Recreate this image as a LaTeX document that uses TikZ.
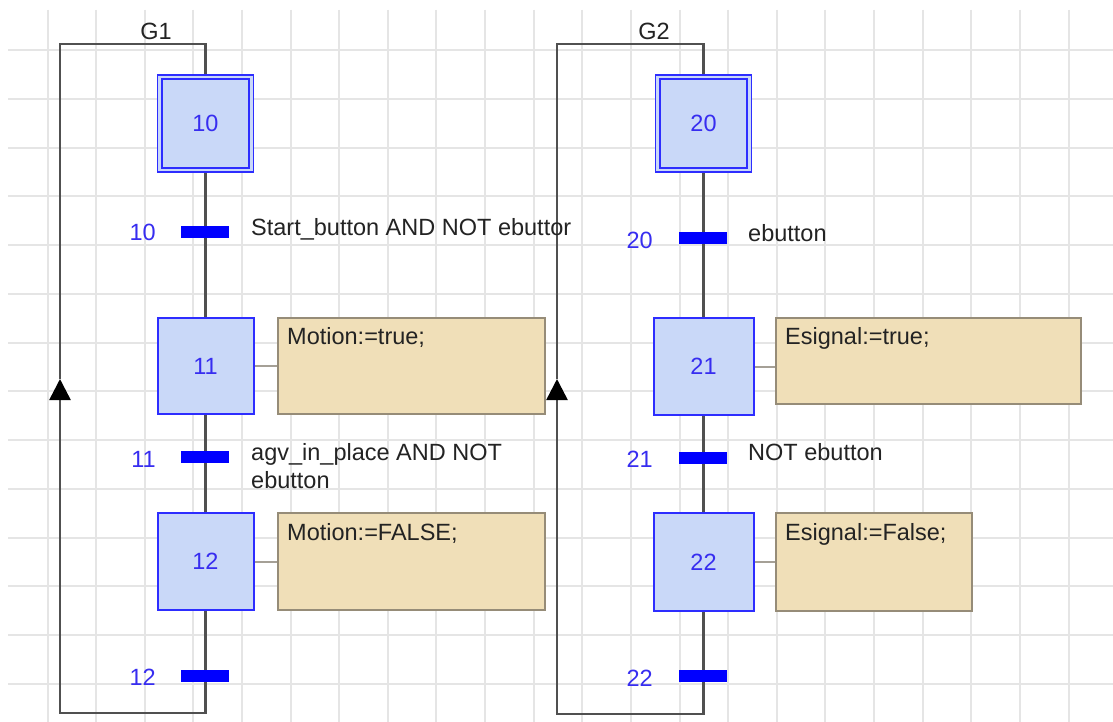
\documentclass[tikz,border=0pt]{standalone}
\usepackage{fontspec}
\setmainfont{Liberation Sans}
\usetikzlibrary{arrows.meta}
\pgfdeclarelayer{grid}
\pgfdeclarelayer{lines}
\pgfsetlayers{grid,lines,main}
\definecolor{gridc}{RGB}{229,229,229}
\definecolor{stepfill}{RGB}{201,216,248}
\definecolor{stepdraw}{RGB}{45,45,255}
\definecolor{numc}{RGB}{55,45,240}
\definecolor{barc}{RGB}{0,0,255}
\definecolor{linec}{RGB}{80,80,80}
\definecolor{actfill}{RGB}{240,223,184}
\definecolor{actdraw}{RGB}{150,140,120}
\definecolor{actline}{RGB}{165,160,150}
\definecolor{txtc}{RGB}{35,35,35}
\newcommand\diagfont{\fontsize{23.5pt}{28pt}\selectfont}
\tikzset{
  gridline/.style={draw=gridc, line width=2pt},
  stepbox/.style={draw=stepdraw, fill=stepfill, line width=2pt, minimum width=96pt, minimum height=96pt, inner sep=0pt, text=numc, font=\diagfont},
  initbox/.style={stepbox, line width=1.5pt, minimum height=97pt},
  transbar/.style={fill=barc, draw=none, minimum width=48pt, minimum height=12pt, inner sep=0pt},
  transnum/.style={anchor=base east, inner sep=0pt, text=numc, font=\diagfont},
  condtext/.style={anchor=base west, inner sep=0pt, text=txtc, font=\diagfont},
  actbox/.style={draw=actdraw, fill=actfill, line width=2pt, inner sep=0pt},
  acttext/.style={anchor=base west, inner sep=0pt, text=txtc, font=\diagfont},
  actconn/.style={draw=actline, line width=2pt},
  mainline/.style={draw=linec, line width=2.5pt},
  looparrow/.style={mainline, -{Triangle[length=21pt,width=21pt,color=black]}},
  grouplabel/.style={anchor=base, inner sep=0pt, text=txtc, font=\diagfont}
}
\begin{document}
\begin{tikzpicture}[x=1pt, y=-1pt]
\useasboundingbox (0,0) rectangle (1113,722);
% background and grid
\begin{pgfonlayer}{grid}
\fill[white] (0,0) rectangle (1113,722);
\foreach \i in {0,...,21} \draw[gridline] ({47.5+48.62*\i},10) -- ({47.5+48.62*\i},722);
\foreach \j in {0,...,13} \draw[gridline] (8,{50+48.77*\j}) -- (1113,{50+48.77*\j});
\end{pgfonlayer}

% ---------------- G1 ----------------
\node[grouplabel] (g1) at (156,40) {G1};
\node[initbox] (s10) at (205.5,123.5) {10};
\draw[stepdraw, line width=2pt] ([shift={(5,5)}]s10.north west) rectangle ([shift={(-5,-5)}]s10.south east);
\node[stepbox] (s11) at (205.5,366) {11};
\node[stepbox, minimum height=97pt] (s12) at (205.5,561.5) {12};
\node[transbar] (t10) at (205,232) {};
\node[transbar] (t11) at (205,457) {};
\node[transbar] (t12) at (205,676) {};
\node[transnum] (n10) at (156,240) {10};
\node[transnum] (n11) at (156,467) {11};
\node[transnum] (n12) at (156,685) {12};
\node[condtext] (c10) at (251,235) {Start\_button AND NOT ebuttor};
\node[condtext] (c11) at (251,460) {agv\_in\_place AND NOT};
\node[condtext] (c11b) at (251,488) {ebutton};
\node[actbox, minimum width=267pt, minimum height=96pt] (a11) at (411.5,366) {};
\node[actbox, minimum width=267pt, minimum height=97pt] (a12) at (411.5,561.5) {};
\node[acttext] (a11t) at (287,344) {Motion:=true;};
\node[acttext] (a12t) at (287,540) {Motion:=FALSE;};
\coordinate (g1br) at (205.5,713);
\coordinate (g1bl) at (60,713);
\coordinate (g1b) at (60,400);
\coordinate (g1a) at (60,379);
\coordinate (g1tl) at (60,44);
\coordinate (g1tr) at (205.5,44);

% ---------------- G2 ----------------
\node[grouplabel] (g2) at (654,40) {G2};
\node[initbox] (s20) at (703.5,123.5) {20};
\draw[stepdraw, line width=2pt] ([shift={(5,5)}]s20.north west) rectangle ([shift={(-5,-5)}]s20.south east);
\node[stepbox, minimum width=100pt, minimum height=97pt] (s21) at (703.5,366.5) {21};
\node[stepbox, minimum width=100pt, minimum height=98pt] (s22) at (703.5,562) {22};
\node[transbar] (t20) at (703,238) {};
\node[transbar] (t21) at (703,457.5) {};
\node[transbar] (t22) at (703,676) {};
\node[transnum] (n20) at (653,248) {20};
\node[transnum] (n21) at (653,467) {21};
\node[transnum] (n22) at (653,686) {22};
\node[condtext] (c20) at (748,241) {ebutton};
\node[condtext] (c21) at (748,460) {NOT ebutton};
\node[actbox, minimum width=305pt, minimum height=86pt] (a21) at (928.5,361) {};
\node[actbox, minimum width=196pt, minimum height=98pt] (a22) at (874,562) {};
\node[acttext] (a21t) at (785,344) {Esignal:=true;};
\node[acttext] (a22t) at (785,540) {Esignal:=False;};
\coordinate (g2br) at (703.5,714);
\coordinate (g2bl) at (557,714);
\coordinate (g2b) at (557,400);
\coordinate (g2a) at (557,379);
\coordinate (g2tl) at (557,44);
\coordinate (g2tr) at (703.5,44);

% ---------------- connectors ----------------
\begin{pgfonlayer}{lines}
\draw[mainline] (s10.south) -- (s11.north);
\draw[mainline] (s11.south) -- (s12.north);
\draw[mainline] (s12.south) -- (g1br) -- (g1bl) -- (g1b);
\draw[looparrow] (g1b) -- (g1a);
\draw[mainline] (g1a) -- (g1tl) -- (g1tr) -- (s10.north);
\draw[actconn] (s11.east) -- (a11.west);
\draw[actconn] (s12.east) -- (a12.west);

\draw[mainline] (s20.south) -- (s21.north);
\draw[mainline] (s21.south) -- (s22.north);
\draw[mainline] (s22.south) -- (g2br) -- (g2bl) -- (g2b);
\draw[looparrow] (g2b) -- (g2a);
\draw[mainline] (g2a) -- (g2tl) -- (g2tr) -- (s20.north);
\draw[actconn] (s21.east) -- (s21.east -| a21.west);
\draw[actconn] (s22.east) -- (a22.west);
\end{pgfonlayer}
\end{tikzpicture}
\end{document}
